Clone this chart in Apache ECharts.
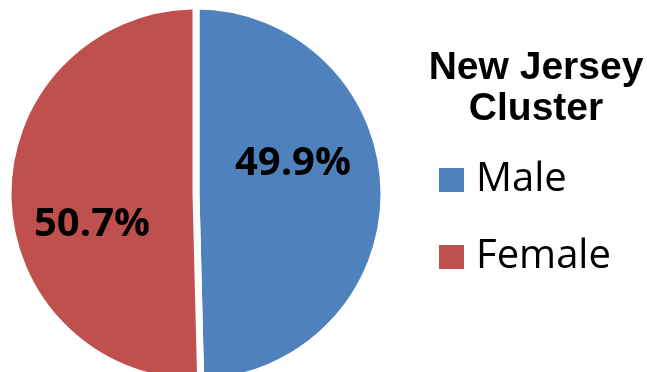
<!DOCTYPE html>
<html>
<head>
<meta charset="utf-8">
<script src="https://cdn.jsdelivr.net/npm/echarts@6/dist/echarts.min.js"></script>
<style>
html,body{margin:0;padding:0;background:#fff;}
#chart{width:647px;height:372px;}
</style>
</head>
<body>
<div id="chart"></div>
<script>
const categories = ['Male', 'Female'];
const values = [49.9, 50.7];
const labelTexts = ['49.9%', '50.7%'];
const titleText = 'New Jersey\nCluster';
const colors = ['#4F81BD', '#C0504D'];
const labelOffsets = [[0, -29], [-7, 29]];

const chart = echarts.init(document.getElementById('chart'), null, {renderer: 'canvas'});
chart.setOption({
  animation: false,
  backgroundColor: '#ffffff',
  title: {
    text: titleText,
    left: 531,
    top: 43,
    textAlign: 'center',
    textStyle: {
      fontFamily: 'Liberation Sans',
      fontWeight: 'bold',
      fontSize: 39,
      lineHeight: 41,
      color: '#000'
    }
  },
  legend: {
    orient: 'vertical',
    left: 432,
    top: 155,
    itemWidth: 27,
    itemHeight: 26,
    itemGap: 37,
    icon: 'rect',
    data: categories,
    textStyle: {
      fontFamily: 'Open Sans',
      fontSize: 40,
      lineHeight: 40,
      color: '#000',
      padding: [0, 0, 0, 6]
    }
  },
  series: [{
    type: 'pie',
    center: [196, 194],
    radius: 188,
    startAngle: 90,
    clockwise: true,
    silent: true,
    itemStyle: {borderColor: '#ffffff', borderWidth: 7},
    label: {
      show: true,
      position: 'inside',
      fontFamily: 'Open Sans',
      fontWeight: 'bold',
      fontSize: 40,
      color: '#000'
    },
    labelLine: {show: false},
    data: categories.map((c, i) => ({
      name: c,
      value: values[i],
      itemStyle: {color: colors[i]},
      label: {formatter: labelTexts[i], offset: labelOffsets[i]}
    }))
  }]
});
</script>
</body>
</html>
